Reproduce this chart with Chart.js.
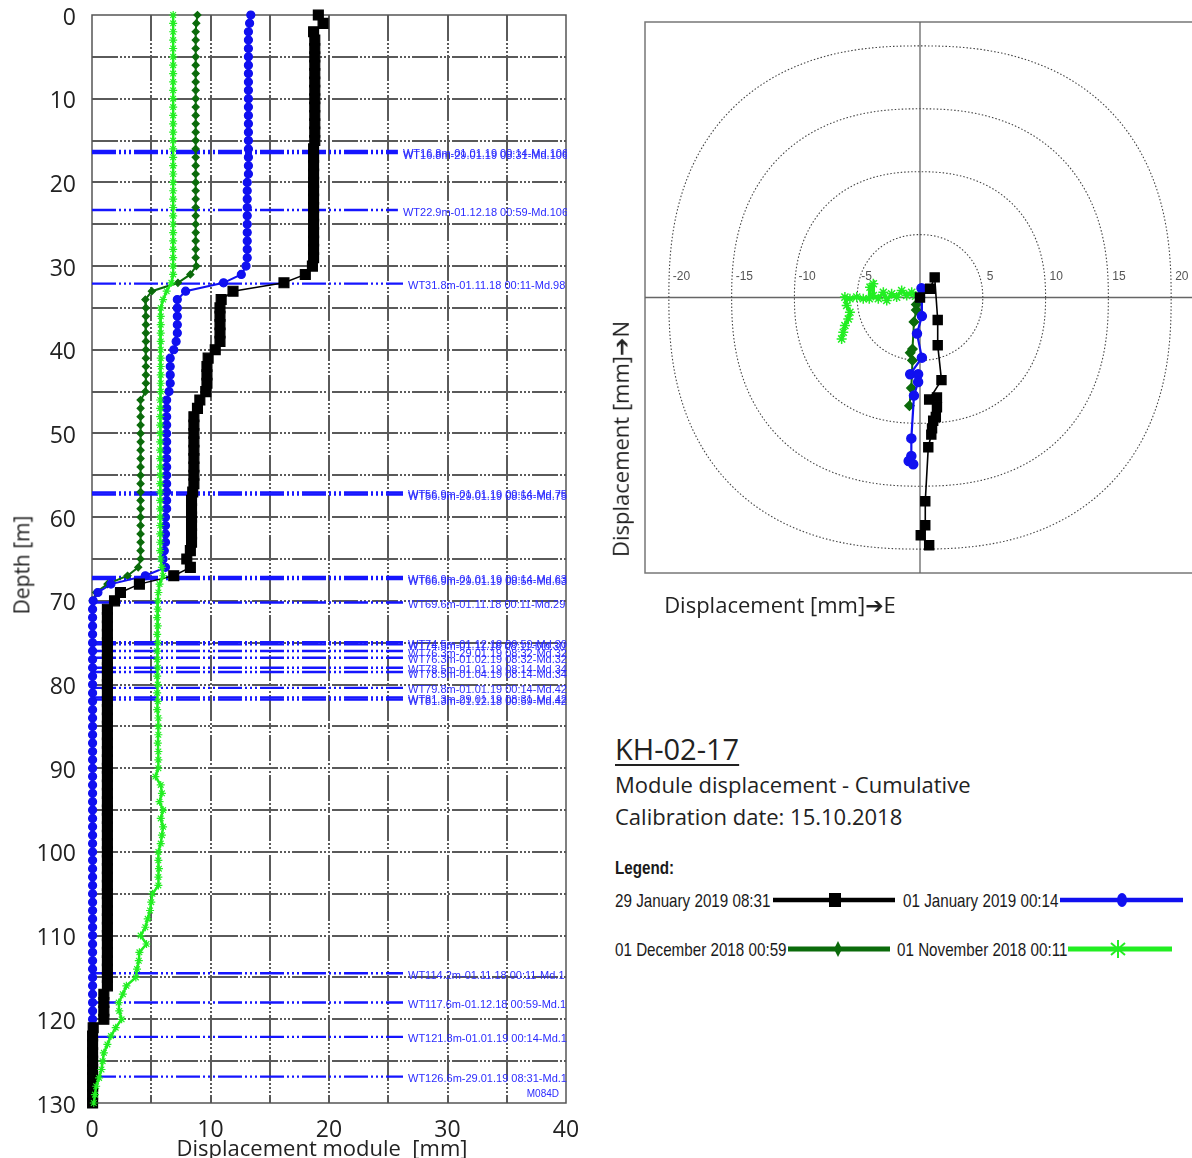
<!DOCTYPE html>
<html><head><meta charset="utf-8">
<script src="https://cdn.jsdelivr.net/npm/chart.js@4.4.1/dist/chart.umd.min.js"></script>
<style>
html,body{margin:0;padding:0;background:#fff;overflow:hidden;}
#wrap{position:relative;width:1192px;height:1158px;overflow:hidden;background:#fff;}
canvas{position:absolute;top:0;}
#c1{left:0;}
#c2{left:600px;}
.t{position:absolute;white-space:pre;color:#222;font-family:'Open Sans',sans-serif;line-height:1;}
.c{transform:translate(-50%,-50%);line-height:1.2;}
.r{transform:translate(-50%,-50%) rotate(-90deg);line-height:1.2;}
.ar{font-family:'DejaVu Sans',sans-serif;font-weight:bold;}
.n{position:absolute;white-space:pre;color:#1a1a1a;font-family:'Liberation Sans',Arial,sans-serif;font-size:19px;line-height:1;transform:scaleX(.8);transform-origin:0 0;}
svg{position:absolute;left:0;top:0;}
</style></head><body>
<div id="wrap">
<canvas id="c1" width="600" height="1158" style="width:600px;height:1158px"></canvas>
<canvas id="c2" width="620" height="600" style="width:620px;height:600px"></canvas>

<div class="t r" style="left:22px;top:565px;font-size:21px;">Depth [m]</div>
<div class="t c" style="left:322px;top:1147px;font-size:22px;">Displacement module  [mm]</div>
<div class="t r" style="left:621px;top:439px;font-size:22px;">Displacement [mm]<span class="ar">➔</span>N</div>
<div class="t c" style="left:780px;top:605px;font-size:22px;">Displacement [mm]<span class="ar">➔</span>E</div>

<div class="t" style="left:615px;top:734px;font-size:29px;text-decoration:underline;text-decoration-thickness:1.5px;text-underline-offset:4px;">KH-02-17</div>
<div class="t" style="left:615px;top:773px;font-size:22px;">Module displacement - Cumulative</div>
<div class="t" style="left:615px;top:805px;font-size:22px;">Calibration date: 15.10.2018</div>

<div class="n" style="left:615px;top:858px;font-weight:bold;">Legend:</div>
<div class="n" style="left:615px;top:891px;">29 January 2019 08:31</div>
<div class="n" style="left:903px;top:891px;">01 January 2019 00:14</div>
<div class="n" style="left:615px;top:940px;">01 December 2018 00:59</div>
<div class="n" style="left:897px;top:940px;">01 November 2018 00:11</div>

<svg width="1192" height="1158" viewBox="0 0 1192 1158">
  <line x1="773" y1="900" x2="895" y2="900" stroke="#000" stroke-width="4.5"/>
  <rect x="829" y="893" width="12" height="14" fill="#000"/>
  <line x1="1060" y1="900" x2="1183" y2="900" stroke="#1010f0" stroke-width="4.5"/>
  <ellipse cx="1122" cy="900" rx="5" ry="7" fill="#1010f0"/>
  <line x1="788" y1="949" x2="890" y2="949" stroke="#0b6b0b" stroke-width="5"/>
  <polygon points="838,941 842,949 838,957 834,949" fill="#0b6b0b"/>
  <line x1="1068" y1="949" x2="1172" y2="949" stroke="#22ee22" stroke-width="5"/>
  <g stroke="#22ee22" stroke-width="2">
    <line x1="1118" y1="940" x2="1118" y2="958"/>
    <line x1="1111" y1="943" x2="1125" y2="955"/>
    <line x1="1111" y1="955" x2="1125" y2="943"/>
  </g>
</svg>
</div>

<script>
// ---------- Depth profile data (depth in m, module displacement in mm) ----------
const depths = [
  0,1,2,3,4,5,6,7,8,9,
  10,11,12,13,14,15,16,17,18,19,
  20,21,22,23,24,25,26,27,28,29,
  30,31,32,33,34,35,36,37,38,39,
  40,41,42,43,44,45,46,47,48,49,
  50,51,52,53,54,55,56,57,58,59,
  60,61,62,63,64,65,66,67,68,69,
  70,71,72,73,74,75,76,77,78,79,
  80,81,82,83,84,85,86,87,88,89,
  90,91,92,93,94,95,96,97,98,99,
  100,101,102,103,104,105,106,107,108,109,
  110,111,112,113,114,115,116,117,118,119,
  120,121,122,123,124,125,126,127,128,129,
  130];

const jan29 = [
  19.1,19.5,18.7,18.8,18.8,18.8,18.8,18.8,18.8,18.8,
  18.8,18.8,18.8,18.8,18.8,18.8,18.7,18.7,18.7,18.7,
  18.7,18.7,18.7,18.7,18.7,18.7,18.7,18.7,18.7,18.7,
  18.6,18.0,16.2,11.9,10.9,10.8,10.8,10.8,10.8,10.8,
  10.4,9.8,9.7,9.7,9.7,9.6,9.1,8.9,8.6,8.6,
  8.6,8.6,8.6,8.6,8.6,8.6,8.6,8.5,8.4,8.4,
  8.4,8.4,8.4,8.4,8.3,8.0,8.3,6.9,4.0,2.4,
  1.9,1.3,1.3,1.3,1.3,1.3,1.3,1.3,1.3,1.3,
  1.3,1.3,1.3,1.3,1.3,1.3,1.3,1.3,1.3,1.3,
  1.3,1.3,1.3,1.3,1.3,1.3,1.3,1.3,1.3,1.3,
  1.3,1.3,1.3,1.3,1.3,1.3,1.3,1.3,1.3,1.3,
  1.3,1.3,1.3,1.3,1.3,1.3,1.3,1.0,1.0,1.0,
  1.0,0.1,0.05,0.05,0.05,0.05,0.05,0.05,0.05,0.05,
  0.05];

const jan01 = [
  13.4,13.3,13.2,13.2,13.2,13.2,13.2,13.2,13.2,13.2,
  13.2,13.2,13.2,13.2,13.2,13.2,13.2,13.2,13.2,13.2,
  13.1,13.1,13.1,13.1,13.1,13.1,13.1,13.1,13.1,13.1,
  13.0,12.6,11.1,7.9,7.2,7.2,7.2,7.2,7.2,7.1,
  6.9,6.6,6.6,6.6,6.6,6.5,6.3,6.3,6.3,6.3,
  6.3,6.3,6.3,6.3,6.3,6.3,6.3,6.3,6.3,6.3,
  6.2,6.2,6.2,6.2,6.1,6.0,6.2,4.5,1.6,0.5,
  0.1,0.05,0.05,0.05,0.05,0.05,0.05,0.05,0.05,0.05,
  0.05,0.05,0.05,0.05,0.05,0.05,0.05,0.05,0.05,0.05,
  0.05,0.05,0.05,0.05,0.05,0.05,0.05,0.05,0.05,0.05,
  0.05,0.05,0.05,0.05,0.05,0.05,0.05,0.05,0.05,0.05,
  0.05,0.05,0.05,0.05,0.05,0.05,0.05,0.05,0.05,0.05,
  0.05,0.05,0.05,0.05,0.05,0.05,0.05,0.05,0.05,0.05,
  0.05];

const dec01 = [
  8.9,8.8,8.75,8.75,8.75,8.75,8.75,8.75,8.75,8.75,
  8.75,8.75,8.75,8.75,8.75,8.75,8.75,8.75,8.75,8.75,
  8.75,8.75,8.75,8.75,8.75,8.75,8.75,8.75,8.75,8.75,
  8.8,8.3,7.25,5.05,4.5,4.55,4.55,4.55,4.55,4.55,
  4.55,4.55,4.55,4.55,4.55,4.5,4.1,4.1,4.1,4.1,
  4.1,4.1,4.1,4.1,4.1,4.1,4.1,4.1,4.1,4.1,
  4.1,4.1,4.1,4.1,4.1,4.1,3.9,3.0,1.3,0.35,
  0.05,0.05,0.05,0.05,0.05,0.05,0.05,0.05,0.05,0.05,
  0.05,0.05,0.05,0.05,0.05,0.05,0.05,0.05,0.05,0.05,
  0.05,0.05,0.05,0.05,0.05,0.05,0.05,0.05,0.05,0.05,
  0.05,0.05,0.05,0.05,0.05,0.05,0.05,0.05,0.05,0.05,
  0.05,0.05,0.05,0.05,0.05,0.05,0.05,0.05,0.05,0.05,
  0.05,0.05,0.05,0.05,0.05,0.05,0.05,0.05,0.05,0.05,
  0.05];

const nov01 = [
  6.85,6.85,6.85,6.85,6.85,6.85,6.85,6.85,6.85,6.85,
  6.85,6.85,6.85,6.85,6.85,6.85,6.85,6.85,6.85,6.85,
  6.85,6.85,6.85,6.85,6.85,6.85,6.85,6.85,6.85,6.85,
  6.85,6.85,6.7,6.3,6.0,5.8,5.8,5.8,5.8,5.8,
  5.8,5.8,5.8,5.8,5.8,5.8,5.75,5.75,5.75,5.75,
  5.75,5.75,5.75,5.75,5.75,5.75,5.75,5.75,5.75,5.75,
  5.75,5.75,5.75,5.75,5.75,5.8,5.9,6.0,5.7,5.6,
  5.55,5.55,5.5,5.55,5.5,5.55,5.5,5.5,5.55,5.5,
  5.55,5.5,5.55,5.5,5.6,5.6,5.6,5.55,5.6,5.6,
  5.6,5.35,5.8,5.9,5.7,6.0,5.8,6.0,5.9,5.8,
  5.6,5.6,5.65,5.6,5.6,5.1,5.0,4.9,4.7,4.5,
  4.1,4.6,4.0,3.95,3.8,3.7,2.9,2.6,2.25,2.3,
  2.5,2.0,1.6,1.3,1.0,0.9,0.8,0.6,0.35,0.25,
  0.15];

// Warning thresholds drawn across the depth profile
const wtDepths = [16.25,16.5,23.3,32.1,57.05,57.3,67.15,67.4,70.2,74.95,75.2,76.0,76.8,78.0,78.5,80.4,81.55,81.8,114.5,118.0,122.1,126.85];
const wtLabels = [
  'WT16.8m-01.01.19 00:14-Md.106','WT16.8m-29.01.19 08:31-Md.106',
  'WT22.9m-01.12.18 00:59-Md.106',
  'WT31.8m-01.11.18 00:11-Md.98',
  'WT56.9m-01.01.19 00:14-Md.75','WT56.9m-29.01.19 08:56-Md.75',
  'WT66.9m-01.01.19 00:14-Md.63','WT66.9m-29.01.19 08:56-Md.63',
  'WT69.6m-01.11.18 00:11-Md.29',
  'WT74.5m-01.12.18 00:59-Md.30','WT74.5m-01.11.18 08:11-Md.30',
  'WT76.3m-29.01.19 08:32-Md.32','WT76.3m-01.02.19 08:32-Md.32',
  'WT78.5m-01.01.19 08:14-Md.34','WT78.5m-01.04.19 08:14-Md.34',
  'WT79.8m-01.01.19 00:14-Md.42',
  'WT81.3m-29.01.19 08:31-Md.42','WT81.3m-01.12.18 00:59-Md.42',
  'WT114.2m-01.11.18 00:11-Md.1','WT117.6m-01.12.18 00:59-Md.1',
  'WT121.8m-01.01.19 00:14-Md.1','WT126.6m-29.01.19 08:31-Md.1'];
const probeName = 'M084D';

// ---------- Plan view data (E, N displacement in mm) ----------
const jan29E = [0,0.8,1.17,1.41,1.41,1.71,0.73,1.35,1.35,1.26,1.05,0.96,0.9,0.66,0.42,0.42,0.06,0.73];
const jan29N = [0,0.7,1.6,-1.79,-3.79,-6.57,-8.11,-7.95,-8.72,-9.5,-9.8,-10.4,-10.9,-11.9,-16.2,-18.1,-18.9,-19.7];
const jan01E = [0,0.12,0.15,-0.24,0.15,-0.78,-0.15,-0.15,-0.48,-0.69,-0.69,-0.9,-0.54];
const jan01N = [0,0.73,-1.48,-2.87,-4.78,-6.1,-6.1,-6.72,-7.8,-11.2,-12.6,-13.0,-13.26];
const dec01E = [0,-0.3,-0.3,-0.48,-0.6,-0.78,-0.6,-0.69,-0.84];
const dec01N = [0,-0.56,-1.0,-1.94,-4.1,-4.4,-5.0,-7.2,-8.6];
const nov01E = [0,-0.35,-0.66,-1.06,-1.46,-1.86,-2.26,-2.65,-2.92,-3.32,-3.72,-3.72,-3.98,-4.04,-4.52,-5.04,-5.58,-5.98,-5.84,-5.58,-5.71,-5.98,-6.11,-6.24];
const nov01N = [0,0.1,0.42,0.16,0.56,0.03,0.29,-0.24,0.42,-0.1,0.16,1.09,0.82,-0.1,-0.1,0.03,-0.1,0.03,-0.64,-1.17,-1.7,-2.23,-2.76,-3.29];
const ringRadii = [5,10,15,20];
const ringLabels = [-20,-15,-10,-5,5,10,15,20];

// ---------- styles ----------
const C_BLACK = '#000000', C_BLUE = '#1010f0', C_DKGREEN = '#0b6b0b', C_LTGREEN = '#22ee22';
const FONT = "'Open Sans', sans-serif";
const RING_SHAPE = {5:2.1, 10:2.3, 15:2.35, 20:2.4}; // squircle exponent of the dotted rings

function profile(vals, color, style, radius, lw, order){
  return {
    data: vals.map((v,i)=>({x:v, y:depths[i]})),
    showLine:true, borderColor:color, backgroundColor:color,
    borderWidth:lw, pointStyle:style, pointRadius:radius,
    pointBackgroundColor:color, pointBorderColor:color, pointBorderWidth:1.2,
    order:order, clip:false
  };
}
function plan(e, n, color, style, radius, lw, order){
  return {
    data: e.map((v,i)=>({x:v, y:n[i]})),
    showLine:true, borderColor:color, backgroundColor:color,
    borderWidth:lw, pointStyle:style, pointRadius:radius,
    pointBackgroundColor:color, pointBorderColor:color, pointBorderWidth:1.5,
    order:order, clip:false
  };
}

const depthDecor = {
  id:'depthDecor',
  beforeDatasetsDraw(chart){
    const {ctx, chartArea:a, scales:{x,y}} = chart;
    ctx.save();
    ctx.strokeStyle = '#5a5a5a'; ctx.lineWidth = 2;
    ctx.setLineDash([26,2,2,2,2,2,2,2]);
    x.ticks.forEach(t=>{
      if (t.value<=x.min || t.value>=x.max) return;
      const px = Math.round(x.getPixelForValue(t.value));
      ctx.beginPath(); ctx.moveTo(px,a.top); ctx.lineTo(px,a.bottom); ctx.stroke();
    });
    y.ticks.forEach(t=>{
      if (t.value<=y.min || t.value>=y.max) return;
      const py = Math.round(y.getPixelForValue(t.value));
      ctx.beginPath(); ctx.moveTo(a.left,py); ctx.lineTo(a.right,py); ctx.stroke();
    });
    ctx.setLineDash([]);
    ctx.strokeStyle = '#555'; ctx.lineWidth = 1.5;
    ctx.strokeRect(a.left, a.top, a.right-a.left, a.bottom-a.top);
    // threshold lines
    ctx.font = "11px 'Liberation Sans', Arial, sans-serif";
    ctx.strokeStyle = '#1515ff'; ctx.lineWidth = 2.4;
    ctx.setLineDash([24,3,2,3,2,3,2,3]);
    wtDepths.forEach((d,i)=>{
      const w = ctx.measureText(wtLabels[i]).width;
      const tx = Math.min(a.left+316, a.right+2-w);
      const py = y.getPixelForValue(d);
      ctx.beginPath(); ctx.moveTo(a.left,py); ctx.lineTo(tx-5,py); ctx.stroke();
    });
    ctx.restore();
  },
  afterDatasetsDraw(chart){
    const {ctx, chartArea:a, scales:{y}} = chart;
    ctx.save();
    ctx.beginPath(); ctx.rect(a.left, a.top, a.right-a.left+1, a.bottom-a.top); ctx.clip();
    ctx.font = "11px 'Liberation Sans', Arial, sans-serif";
    ctx.fillStyle = '#2b2bff'; ctx.textBaseline = 'middle'; ctx.textAlign = 'left';
    wtDepths.forEach((d,i)=>{
      const w = ctx.measureText(wtLabels[i]).width;
      const tx = Math.min(a.left+316, a.right+2-w);
      ctx.fillText(wtLabels[i], tx, y.getPixelForValue(d)+2.5);
    });
    ctx.font = "10px 'Liberation Sans', Arial, sans-serif";
    ctx.textAlign = 'right';
    ctx.fillText(probeName, a.right-7, a.bottom-9);
    ctx.restore();
  }
};

new Chart(document.getElementById('c1'), {
  type:'scatter',
  data:{datasets:[
    profile(nov01, C_LTGREEN, 'star', 4, 2.5, 0),
    profile(jan29, C_BLACK, 'rect', 7, 1.5, 1),
    profile(jan01, C_BLUE, 'circle', 4, 2, 2),
    profile(dec01, C_DKGREEN, 'rectRot', 3.5, 2, 3)
  ]},
  options:{
    responsive:false, animation:false, devicePixelRatio:1,
    layout:{padding:{left:0, top:15, right:34, bottom:0}},
    plugins:{legend:{display:false}, tooltip:{enabled:false}},
    scales:{
      x:{type:'linear', min:0, max:40, position:'bottom',
        grid:{display:false}, border:{display:false},
        ticks:{stepSize:5, autoSkip:false, maxRotation:0, padding:6, color:'#222',
          font:{family:FONT, size:23}, callback:v=>(v%10===0? String(v):'')},
        afterFit(s){ s.height = 55; s.paddingLeft = 0; s.paddingRight = 0; }},
      y:{type:'linear', min:0, max:130, reverse:true,
        grid:{display:false}, border:{display:false},
        ticks:{stepSize:5, autoSkip:false, padding:8, labelOffset:3, color:'#222',
          font:{family:FONT, size:23}, callback:v=>(v%10===0? String(v):'')},
        afterFit(s){ s.width = 92; s.paddingTop = 0; s.paddingBottom = 0; }}
    }
  },
  plugins:[depthDecor]
});

const polarDecor = {
  id:'polarDecor',
  beforeDatasetsDraw(chart){
    const {ctx, chartArea:a, scales:{x,y}} = chart;
    const cx = x.getPixelForValue(0), cy = y.getPixelForValue(0);
    ctx.save();
    ctx.strokeStyle = '#777'; ctx.lineWidth = 1.5;
    ctx.strokeRect(a.left, a.top, a.right-a.left, a.bottom-a.top);
    ctx.strokeStyle = '#666'; ctx.lineWidth = 1.3;
    ctx.beginPath(); ctx.moveTo(cx,a.top); ctx.lineTo(cx,a.bottom); ctx.stroke();
    ctx.beginPath(); ctx.moveTo(a.left,cy); ctx.lineTo(a.right,cy); ctx.stroke();
    ctx.setLineDash([1.5,2]); ctx.strokeStyle = '#444'; ctx.lineWidth = 1.1;
    ringRadii.forEach(r=>{
      const rx = x.getPixelForValue(r)-cx, ry = cy-y.getPixelForValue(r);
      const p = 2/(RING_SHAPE[r]||2);
      ctx.beginPath();
      for (let k=0;k<=720;k++){
        const t = k/720*Math.PI*2, c = Math.cos(t), s = Math.sin(t);
        const px = cx + rx*Math.sign(c)*Math.pow(Math.abs(c),p);
        const py = cy - ry*Math.sign(s)*Math.pow(Math.abs(s),p);
        if (k===0) ctx.moveTo(px,py); else ctx.lineTo(px,py);
      }
      ctx.stroke();
    });
    ctx.setLineDash([]);
    ctx.fillStyle = '#555'; ctx.font = "12px 'Liberation Sans', Arial, sans-serif";
    ctx.textBaseline = 'middle'; ctx.textAlign = 'left';
    ringLabels.forEach(v=>{ ctx.fillText(String(v), x.getPixelForValue(v)+4, cy-21); });
    ctx.restore();
  }
};

new Chart(document.getElementById('c2'), {
  type:'scatter',
  data:{datasets:[
    plan(jan29E, jan29N, C_BLACK, 'rect', 6.3, 1.6, 0),
    plan(jan01E, jan01N, C_BLUE, 'circle', 4.5, 2.2, 1),
    plan(dec01E, dec01N, C_DKGREEN, 'rectRot', 4.5, 2, 2),
    plan(nov01E, nov01N, C_LTGREEN, 'star', 5, 3.5, 3)
  ]},
  options:{
    responsive:false, animation:false, devicePixelRatio:1,
    layout:{padding:{left:45, top:22, right:25, bottom:27}},
    plugins:{legend:{display:false}, tooltip:{enabled:false}},
    scales:{
      x:{type:'linear', min:-21.9, max:21.9, display:false},
      y:{type:'linear', min:-21.9, max:21.9, display:false}
    }
  },
  plugins:[polarDecor]
});
</script>
</body></html>
